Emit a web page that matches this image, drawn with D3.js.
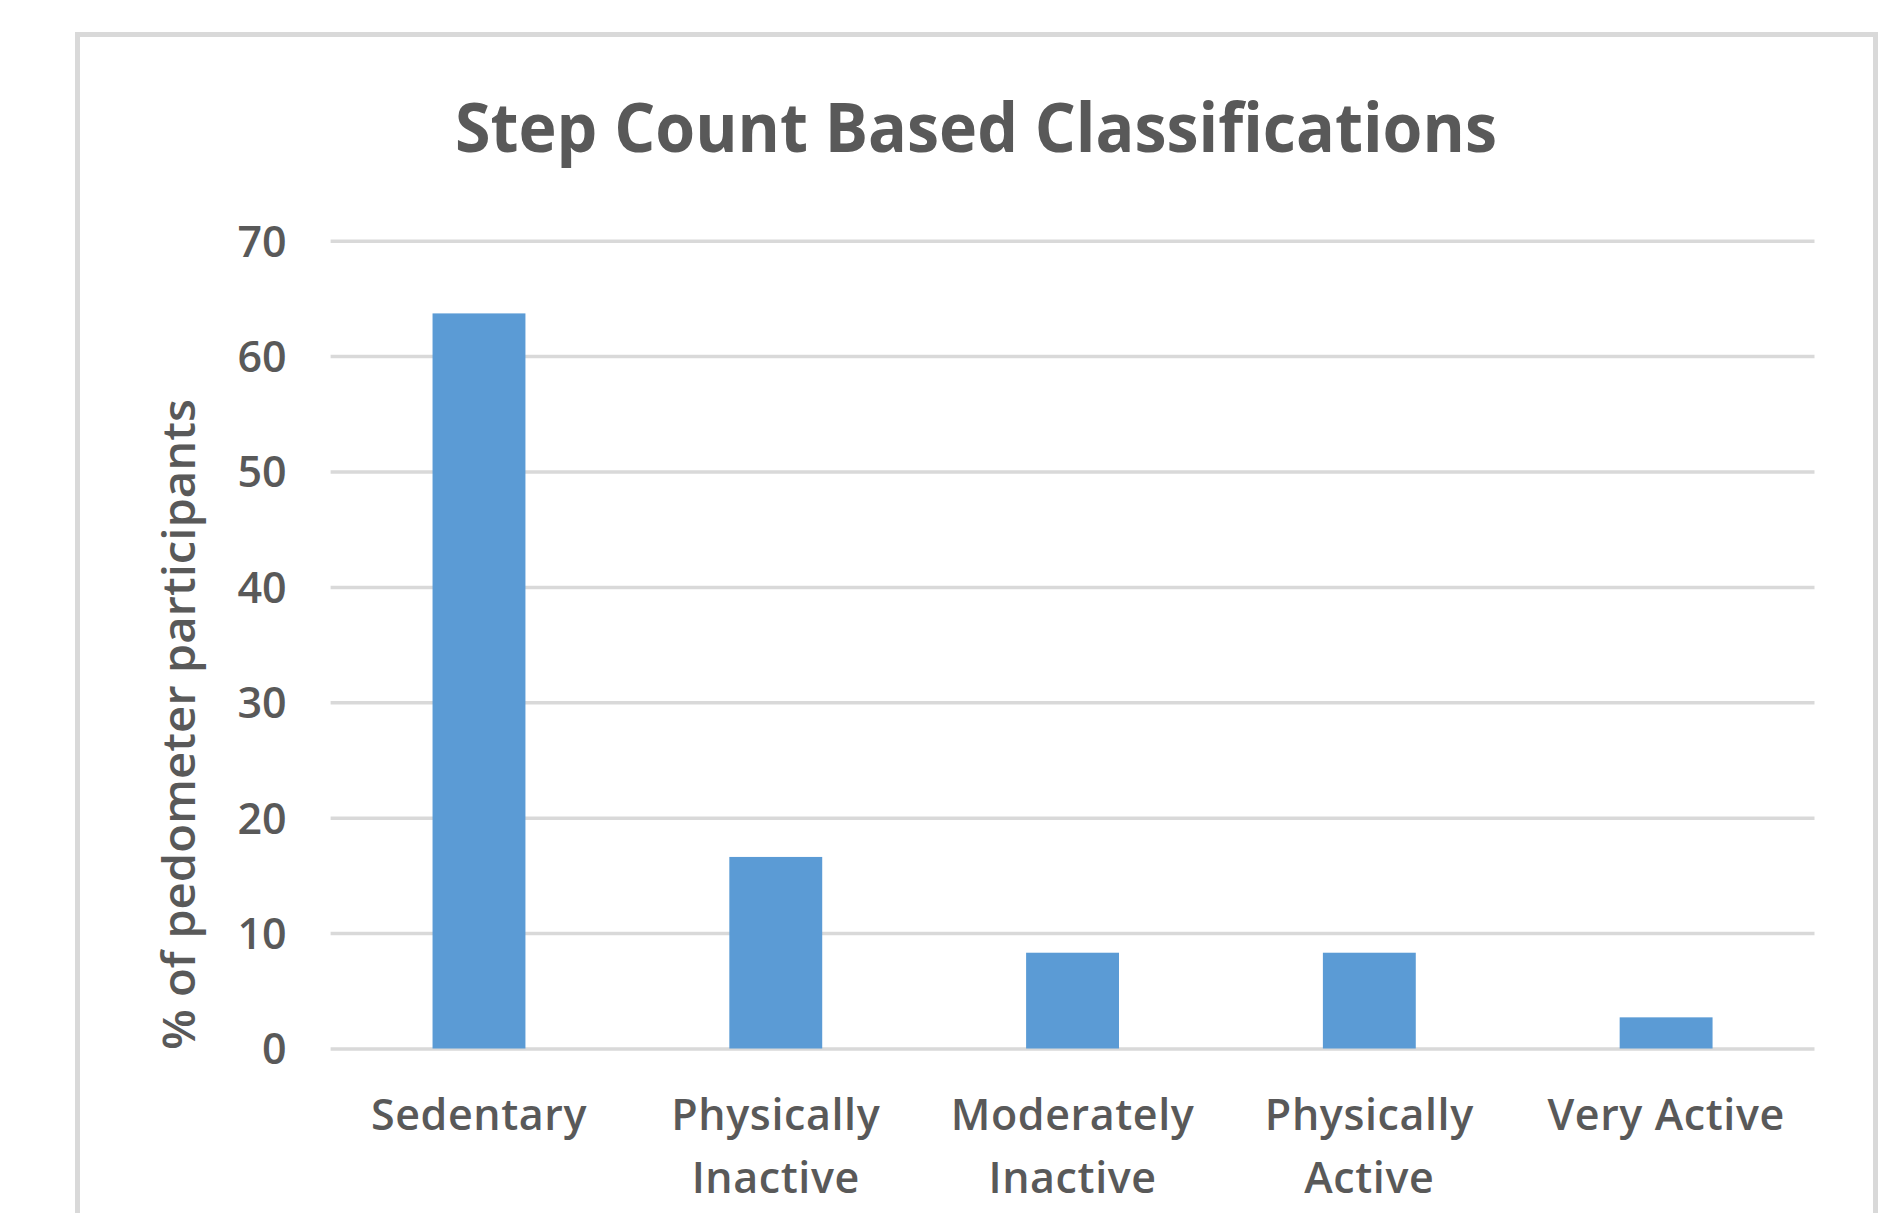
<!DOCTYPE html>
<html>
<head>
<meta charset="utf-8">
<script src="https://cdn.jsdelivr.net/npm/d3@7"></script>
<style>
  html, body { margin: 0; padding: 0; background: #ffffff; }
  svg { display: block; }
</style>
</head>
<body>
<svg id="chart" width="1878" height="1213"></svg>
<script>
// Share of pedometer participants in each step-count class
const categories = ["Sedentary", "Physically Inactive", "Moderately Inactive", "Physically Active", "Very Active"];
const tickLabels = [["Sedentary"], ["Physically", "Inactive"], ["Moderately", "Inactive"], ["Physically", "Active"], ["Very Active"]];
const values = [63.7, 16.6, 8.3, 8.3, 2.7];
const yTicks = [0, 10, 20, 30, 40, 50, 60, 70];
const chartTitle = "Step Count Based Classifications";
const yTitle = "% of pedometer participants";

const W = 1878, H = 1213;
const plot = { left: 330.6, right: 1814.5, top: 240.7, bottom: 1048.5 };
const textColor = "#595959";
const gridColor = "#d9d9d9";
const barColor = "#5b9bd5";
const font = "'Open Sans', 'Noto Sans', sans-serif";

const svg = d3.select("#chart");

// chart frame
svg.append("rect")
  .attr("x", 77.5).attr("y", 34.5)
  .attr("width", 1798).attr("height", 1400)
  .attr("fill", "#ffffff")
  .attr("stroke", gridColor).attr("stroke-width", 5);

const x = d3.scaleBand()
  .domain(categories)
  .range([plot.left, plot.right])
  .paddingInner(0.687)
  .paddingOuter(0.3435);

const y = d3.scaleLinear()
  .domain([0, 70])
  .range([plot.bottom, plot.top]);

// title
svg.append("text")
  .attr("x", 976).attr("y", 151.7)
  .attr("text-anchor", "middle")
  .attr("font-family", font).attr("font-weight", 700)
  .attr("font-size", 68)
  .attr("fill", textColor)
  .attr("textLength", 1042)
  .attr("lengthAdjust", "spacingAndGlyphs")
  .text(chartTitle);

// horizontal gridlines + y tick labels
const yAxis = d3.axisLeft(y)
  .tickValues(yTicks)
  .tickSize(-(plot.right - plot.left))
  .tickPadding(44)
  .tickFormat(d3.format("d"));

const gy = svg.append("g")
  .attr("transform", `translate(${plot.left},0)`)
  .call(yAxis);
gy.select(".domain").remove();
gy.selectAll(".tick line")
  .attr("stroke", gridColor)
  .attr("stroke-width", 3.5);
gy.selectAll(".tick text")
  .attr("font-family", font).attr("font-weight", 600)
  .attr("font-size", 43)
  .attr("fill", textColor)
  .attr("dy", "0.36em");

// bars
svg.append("g")
  .selectAll("rect")
  .data(values)
  .join("rect")
  .attr("x", (d, i) => x(categories[i]))
  .attr("y", d => y(d))
  .attr("width", x.bandwidth())
  .attr("height", d => y(0) - y(d))
  .attr("fill", barColor);

// category labels
const xAxis = d3.axisBottom(x).tickSize(0).tickFormat(() => "");
const gx = svg.append("g")
  .attr("transform", `translate(0,${plot.bottom})`)
  .call(xAxis);
gx.select(".domain").remove();
gx.selectAll(".tick").each(function (d, i) {
  const t = d3.select(this).append("text")
    .attr("text-anchor", "middle")
    .attr("font-family", font).attr("font-weight", 600)
    .attr("font-size", 43)
    .attr("letter-spacing", 0.6)
    .attr("fill", textColor);
  tickLabels[i].forEach((line, j) => {
    t.append("tspan")
      .attr("x", 0)
      .attr("y", 81 + j * 63)
      .text(line);
  });
});

// y axis title
svg.append("text")
  .attr("transform", "translate(195,724.6) rotate(-90)")
  .attr("text-anchor", "middle")
  .attr("font-family", font).attr("font-weight", 600)
  .attr("font-size", 46)
  .attr("fill", textColor)
  .attr("textLength", 651)
  .attr("lengthAdjust", "spacingAndGlyphs")
  .text(yTitle);
</script>
</body>
</html>
